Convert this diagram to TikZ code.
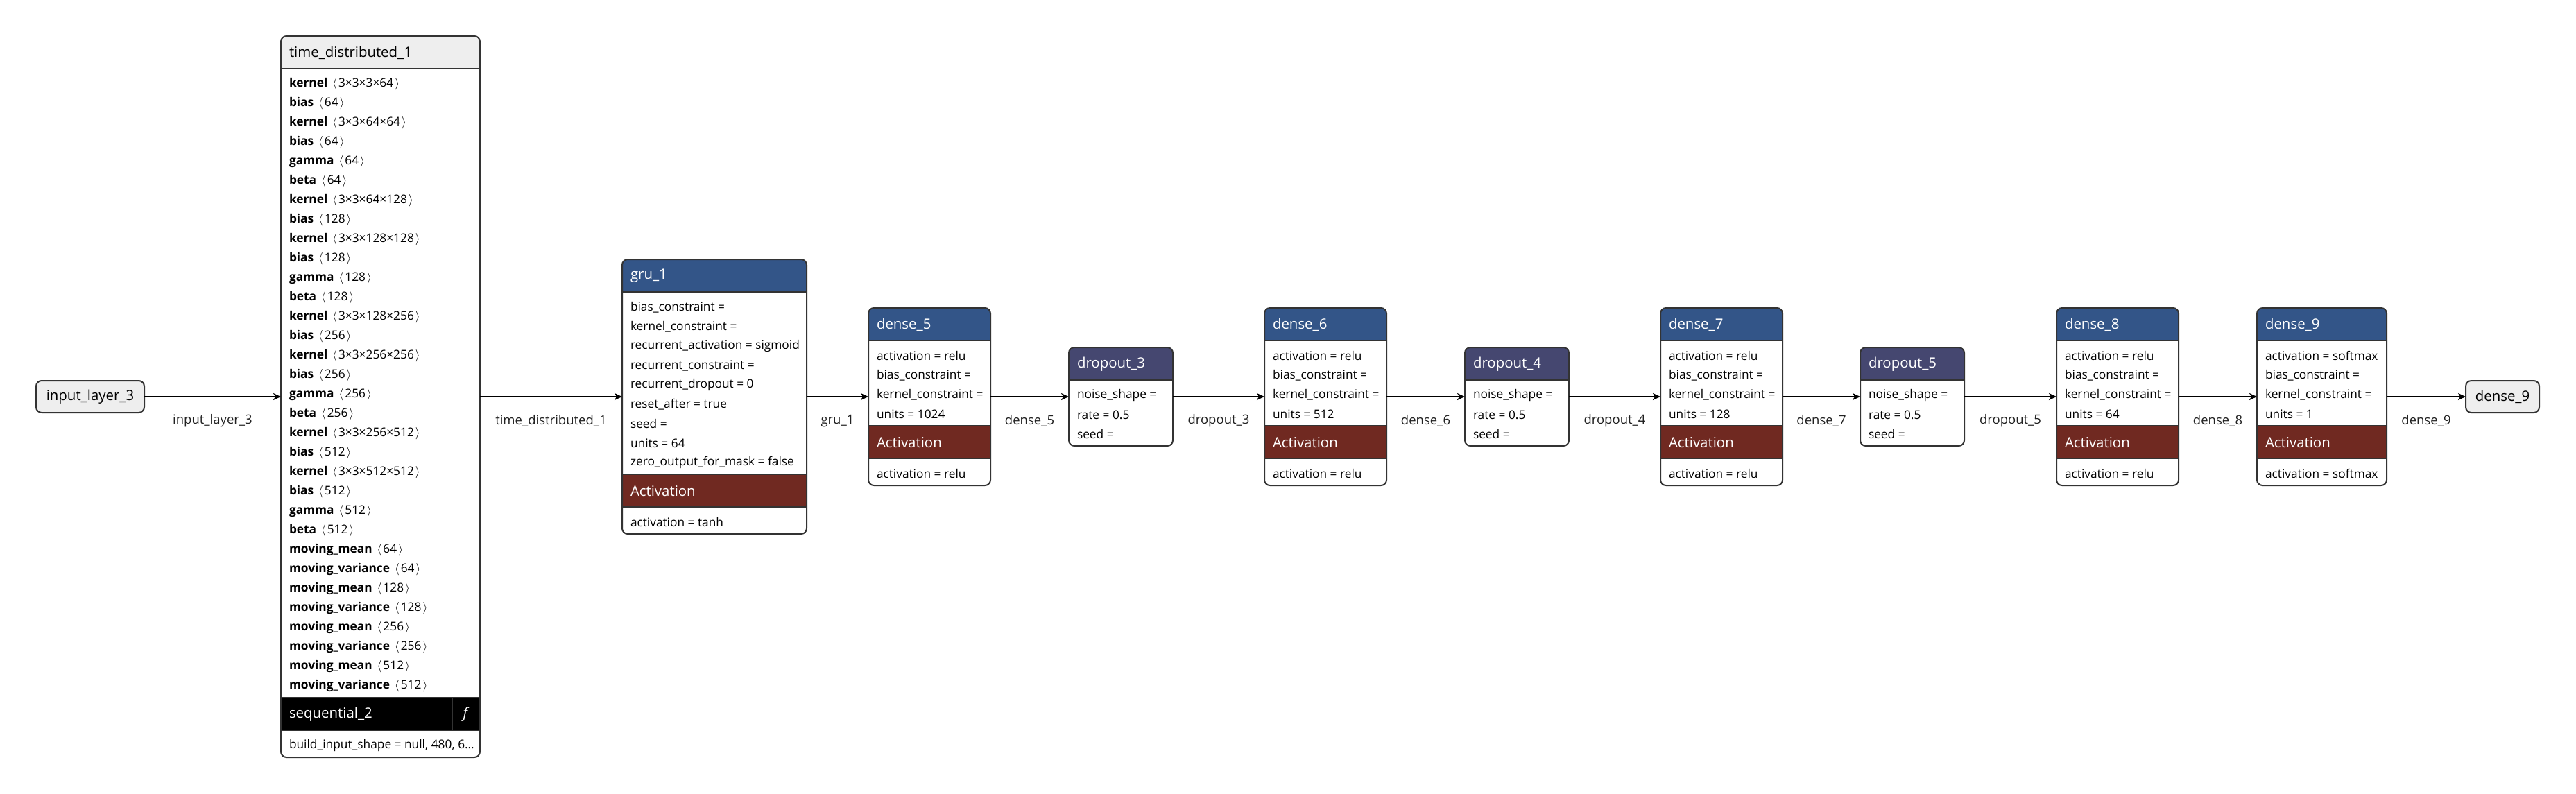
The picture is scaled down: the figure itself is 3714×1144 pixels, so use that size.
\documentclass[tikz,border=0pt]{standalone}
\usepackage{fontspec}
\setmainfont{Open Sans}
\usetikzlibrary{arrows.meta,positioning}

\definecolor{boxline}{HTML}{333333}
\definecolor{layerblue}{HTML}{335588}
\definecolor{dropblue}{HTML}{454770}
\definecolor{actred}{HTML}{702921}
\definecolor{iogray}{HTML}{EEEEEE}
\definecolor{labelgray}{HTML}{222222}

\newcommand{\attrfont}{\fontsize{17.3pt}{20pt}\selectfont}
\newcommand{\edgefont}{\fontsize{18.5pt}{22pt}\selectfont}
\newcommand{\hdrfont}{\fontsize{20.4pt}{24pt}\selectfont}

% coloured band across a box, clipped to its rounded outline
\newcommand{\band}[4]{%
  \begin{scope}
    \clip[rounded corners=8pt] (#1.north west) rectangle (#1.south east);
    \fill[#4] ([yshift=-#2pt]#1.north west) rectangle ([yshift=-#2pt-#3pt]#1.north east);
    \draw[sepline] ([yshift=-#2pt]#1.north west) -- ([yshift=-#2pt]#1.north east);
    \draw[sepline] ([yshift=-#2pt-#3pt]#1.north west) -- ([yshift=-#2pt-#3pt]#1.north east);
  \end{scope}}
\newcommand{\frameit}[1]{\draw[boxedge] (#1.north west) [rounded corners=8pt] rectangle (#1.south east);}

% header band with title and attribute rows
\newcommand{\layerhead}[4]{%
  \band{#1}{0}{47}{#2}
  \node[hdr] (#1-h) at ([xshift=12pt,yshift=-24pt]#1.north west) {#3};
  \foreach \t [count=\i] in {#4}
    \node[attr] (#1-r\i) at ([xshift=12pt,yshift={-(41+\i*28)*1pt}]#1.north west) {\t};}

% activation band and its rows
\newcommand{\actpart}[3]{%
  \band{#1}{#2}{47}{actred}
  \node[hdr] (#1-a) at ([xshift=12pt,yshift={-(#2+24)*1pt}]#1.north west) {Activation};
  \foreach \t [count=\i] in {#3}
    \node[attr] (#1-a\i) at ([xshift=12pt,yshift={-(#2+41+\i*28)*1pt}]#1.north west) {\t};}

\begin{document}
\begin{tikzpicture}[x=1pt,y=1pt,
    >={Stealth[length=11pt,width=10pt,inset=3pt]},
    every node/.style={inner sep=0pt,outer sep=0pt},
    layer/.style 2 args={rectangle,fill=white,rounded corners=8pt,minimum width=#1,minimum height=#2},
    io/.style={rectangle,draw=boxline,line width=2pt,fill=iogray,rounded corners=8pt,
               minimum width=#1,minimum height=46pt,font=\hdrfont},
    boxedge/.style={draw=boxline,line width=2pt},
    sepline/.style={draw=boxline,line width=2pt},
    attr/.style={anchor=west,font=\attrfont},
    hdr/.style={anchor=west,font=\hdrfont,text=white},
    elabel/.style={font=\edgefont,text=labelgray,yshift=-35pt},
    link/.style={->,line width=2pt}]

  \useasboundingbox (0,0) rectangle (3714,-1144);

  % nodes, left to right
  \node[io=156pt] (in) at (130,-572) {input\_layer\_3};
  \node[layer={287pt}{1040pt}, right=197pt of in]  (td)  {};
  \node[layer={266pt}{396pt},  right=205pt of td]  (gru) {};
  \node[layer={176pt}{256pt},  right=89pt of gru]  (d5)  {};
  \node[layer={150pt}{142pt},  right=113pt of d5]  (do3) {};
  \node[layer={176pt}{256pt},  right=132pt of do3] (d6)  {};
  \node[layer={150pt}{142pt},  right=113pt of d6]  (do4) {};
  \node[layer={176pt}{256pt},  right=132pt of do4] (d7)  {};
  \node[layer={150pt}{142pt},  right=112pt of d7]  (do5) {};
  \node[layer={176pt}{256pt},  right=133pt of do5] (d8)  {};
  \node[layer={187pt}{256pt},  right=113pt of d8]  (d9)  {};
  \node[io=106pt, right=114pt of d9] (out) {dense\_9};

  % time_distributed_1
  \band{td}{0}{47}{iogray}
  \band{td}{954}{47}{black}
  \draw[sepline] ([xshift=-40pt,yshift=-954pt]td.north east) -- ([xshift=-40pt,yshift=-1001pt]td.north east);
  \node[hdr,text=black] (td-h) at ([xshift=12pt,yshift=-24pt]td.north west) {time\_distributed\_1};
  \foreach \k/\s [count=\i] in {kernel/3×3×3×64, bias/64, kernel/3×3×64×64, bias/64, gamma/64, beta/64,
      kernel/3×3×64×128, bias/128, kernel/3×3×128×128, bias/128, gamma/128, beta/128,
      kernel/3×3×128×256, bias/256, kernel/3×3×256×256, bias/256, gamma/256, beta/256,
      kernel/3×3×256×512, bias/512, kernel/3×3×512×512, bias/512, gamma/512, beta/512,
      moving\_mean/64, moving\_variance/64, moving\_mean/128, moving\_variance/128,
      moving\_mean/256, moving\_variance/256, moving\_mean/512, moving\_variance/512}
    \node[attr] (td-r\i) at ([xshift=12pt,yshift={-(41+\i*28)*1pt}]td.north west)
      {\textbf{\k}\hspace{0.4em}$\langle$\hspace{0.12em}\s\hspace{0.12em}$\rangle$};
  \node[hdr] (td-s) at ([xshift=12pt,yshift=-978pt]td.north west) {sequential\_2};
  \node[hdr,anchor=center] (td-f) at ([xshift=-20pt,yshift=-978pt]td.north east) {\textit{f}};
  \node[attr] (td-b) at ([xshift=12pt,yshift=-1023pt]td.north west) {build\_input\_shape = null, 480, 6…};
  \frameit{td}

  % gru_1
  \layerhead{gru}{layerblue}{gru\_1}{bias\_constraint =, kernel\_constraint =,
      recurrent\_activation = sigmoid, recurrent\_constraint =, recurrent\_dropout = 0,
      reset\_after = true, seed =, units = 64, zero\_output\_for\_mask = false}
  \actpart{gru}{310}{activation = tanh}
  \frameit{gru}

  % dense and dropout layers
  \foreach \n/\u/\m in {d5/1024/5, d6/512/6, d7/128/7, d8/64/8} {
    \layerhead{\n}{layerblue}{dense\_\m}{activation = relu, bias\_constraint =, kernel\_constraint =, units = \u}
    \actpart{\n}{170}{activation = relu}
    \frameit{\n}
  }
  \layerhead{d9}{layerblue}{dense\_9}{activation = softmax, bias\_constraint =, kernel\_constraint =, units = 1}
  \actpart{d9}{170}{activation = softmax}
  \frameit{d9}
  \foreach \n/\m in {do3/3, do4/4, do5/5} {
    \layerhead{\n}{dropblue}{dropout\_\m}{noise\_shape =, rate = 0.5, seed =}
    \frameit{\n}
  }

  % connectors
  \draw[link] (in.east)  -- node[elabel] {input\_layer\_3} (td.west);
  \draw[link] (td.east)  -- node[elabel] {time\_distributed\_1} (gru.west);
  \draw[link] (gru.east) -- node[elabel] {gru\_1} (d5.west);
  \draw[link] (d5.east)  -- node[elabel] {dense\_5} (do3.west);
  \draw[link] (do3.east) -- node[elabel] {dropout\_3} (d6.west);
  \draw[link] (d6.east)  -- node[elabel] {dense\_6} (do4.west);
  \draw[link] (do4.east) -- node[elabel] {dropout\_4} (d7.west);
  \draw[link] (d7.east)  -- node[elabel] {dense\_7} (do5.west);
  \draw[link] (do5.east) -- node[elabel] {dropout\_5} (d8.west);
  \draw[link] (d8.east)  -- node[elabel] {dense\_8} (d9.west);
  \draw[link] (d9.east)  -- node[elabel] {dense\_9} (out.west);

\end{tikzpicture}
\end{document}
